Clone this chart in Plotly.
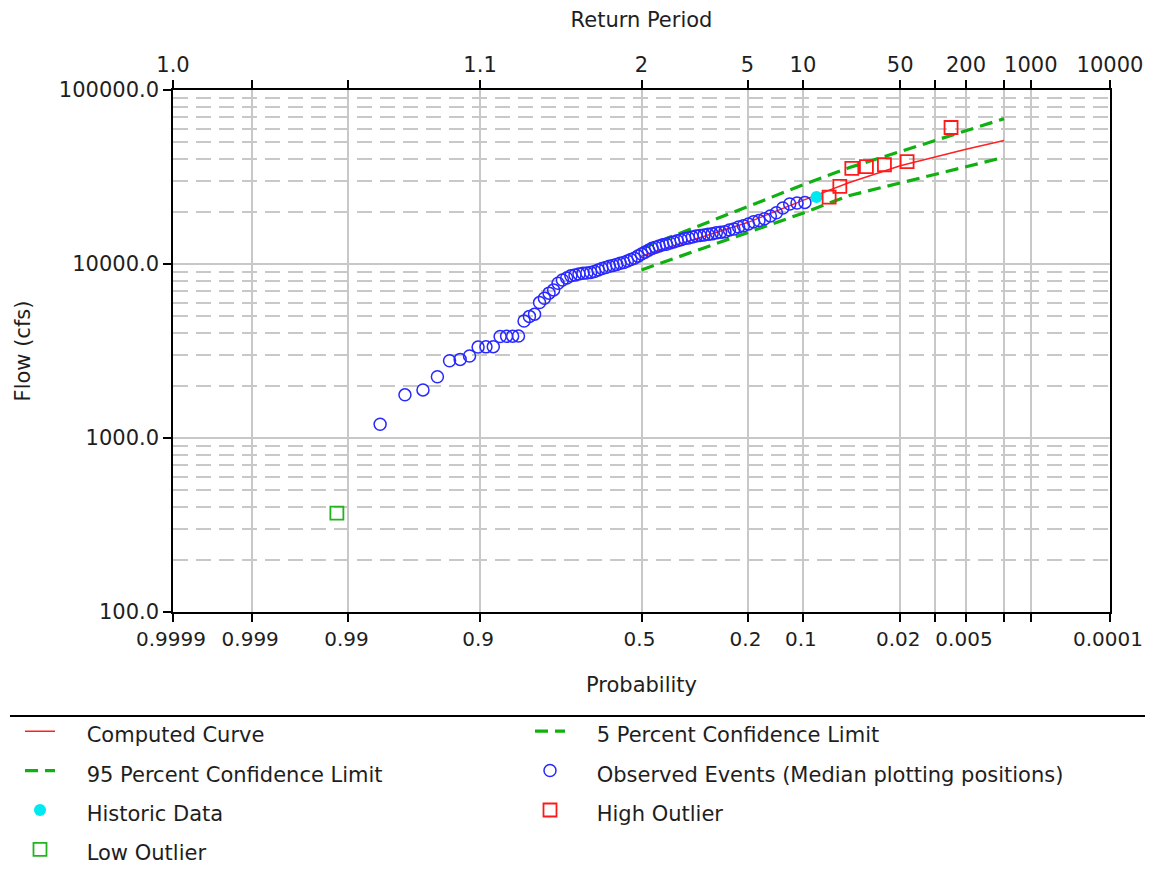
import plotly.graph_objects as go
from statistics import NormalDist

# ---------------- data ----------------
prob_ticks = [0.9999, 0.999, 0.99, 0.9, 0.5, 0.2, 0.1, 0.02, 0.01, 0.005, 0.002, 0.001, 0.0001]
prob_labels = ["0.9999", "0.999", "0.99", "0.9", "0.5", "0.2", "0.1", "0.02", "", "0.005", "", "", "0.0001"]
rp_labels = ["1.0", "", "", "1.1", "2", "5", "10", "50", "", "200", "", "1000", "10000"]

flow_major = [100, 1000, 10000, 100000]
flow_major_labels = ["100.0", "1000.0", "10000.0", "100000.0"]
flow_minor = [m * d for d in (100, 1000, 10000) for m in range(2, 10)]

curve_prob = [0.5, 0.2, 0.1, 0.05, 0.02, 0.01, 0.005, 0.002]
computed_flow = [11100, 17300, 23200, 29300, 36700, 41300, 45700, 51300]
upper5_flow = [12300, 21300, 28500, 35700, 44200, 51100, 58200, 68400]
lower95_flow = [9250, 15100, 19600, 24700, 29100, 32600, 36200, 41100]

obs_prob = [0.0973, 0.1085, 0.1197, 0.1309, 0.1421, 0.1532, 0.1644, 0.1756, 0.1868, 0.1980,
            0.2092, 0.2204, 0.2315, 0.2427, 0.2539, 0.2651, 0.2763, 0.2875, 0.2987, 0.3098,
            0.3210, 0.3322, 0.3434, 0.3546, 0.3658, 0.3770, 0.3881, 0.3993, 0.4105, 0.4217,
            0.4329, 0.4441, 0.4553, 0.4664, 0.4776, 0.4888, 0.5000, 0.5112, 0.5224, 0.5336,
            0.5447, 0.5559, 0.5671, 0.5783, 0.5895, 0.6007, 0.6119, 0.6230, 0.6342, 0.6454,
            0.6566, 0.6678, 0.6790, 0.6902, 0.7013, 0.7125, 0.7237, 0.7349, 0.7461, 0.7573,
            0.7685, 0.7796, 0.7908, 0.8020, 0.8132, 0.8244, 0.8356, 0.8468, 0.8579, 0.8691,
            0.8803, 0.8915, 0.9027, 0.9139, 0.9250, 0.9362, 0.9474, 0.9586, 0.9698, 0.9810]
obs_flow = [22600, 22400, 22100, 21000, 19700, 18900, 18200, 17800, 17500, 17000,
            16600, 16300, 15900, 15700, 15300, 15200, 15100, 14900, 14800, 14700,
            14600, 14500, 14300, 14100, 14000, 13800, 13600, 13400, 13200, 13000,
            12900, 12700, 12500, 12300, 12000, 11700, 11400, 11100, 10800, 10600,
            10400, 10200, 10100, 9950, 9800, 9700, 9550, 9430, 9250, 9050,
            8950, 8880, 8850, 8760, 8650, 8550, 8300, 8100, 7750, 7100,
            6800, 6350, 6000, 5150, 5000, 4700, 3860, 3850, 3840, 3830,
            3350, 3340, 3330, 2960, 2830, 2780, 2250, 1890, 1770, 1200]

historic_prob = [0.0824]
historic_flow = [24300]

high_prob = [0.0682, 0.0577, 0.0475, 0.0371, 0.0269, 0.0175, 0.0070]
high_flow = [24200, 27900, 35400, 36300, 37200, 38800, 60900]

low_prob = [0.9922]
low_flow = [370]

# ---------------- probability (normal) scale ----------------
nd = NormalDist()


def zpos(p):
    return nd.inv_cdf(1.0 - p)


def zlist(ps):
    return [zpos(p) for p in ps]


FONT = "DejaVu Sans"
FS = 21
TXT = "#1e1e1e"
GRID = "#c8c8c8"


def leg(name):
    return '<span style="font-size:%dpx">&nbsp;&nbsp;&nbsp;&nbsp;%s</span>' % (FS, name)


fig = go.Figure()
fig.add_trace(go.Scatter(x=zlist(curve_prob), y=computed_flow, mode="lines",
                         line=dict(color="#ff2020", width=1.5), name=leg("Computed Curve"),
                         legend="legend"))
fig.add_trace(go.Scatter(x=zlist(curve_prob), y=upper5_flow, mode="lines",
                         line=dict(color="#10b010", width=3.2, dash="13px,7px"),
                         name=leg("5 Percent Confidence Limit"), legend="legend2"))
fig.add_trace(go.Scatter(x=zlist(curve_prob), y=lower95_flow, mode="lines",
                         line=dict(color="#10b010", width=3.2, dash="13px,7px"),
                         name=leg("95 Percent Confidence Limit"), legend="legend"))
fig.add_trace(go.Scatter(x=zlist(obs_prob), y=obs_flow, mode="markers",
                         marker=dict(symbol="circle-open", size=12, color="#2828ff",
                                     line=dict(width=1.5)),
                         name=leg("Observed Events (Median plotting positions)"),
                         legend="legend2"))
fig.add_trace(go.Scatter(x=zlist(historic_prob), y=historic_flow, mode="markers",
                         marker=dict(symbol="circle", size=12, color="#00e8f0"),
                         name=leg("Historic Data"), legend="legend"))
fig.add_trace(go.Scatter(x=zlist(high_prob), y=high_flow, mode="markers",
                         marker=dict(symbol="square-open", size=13, color="#ff1a1a",
                                     line=dict(width=1.8)),
                         name=leg("High Outlier"), legend="legend2"))
fig.add_trace(go.Scatter(x=zlist(low_prob), y=low_flow, mode="markers",
                         marker=dict(symbol="square-open", size=13, color="#20b420",
                                     line=dict(width=1.8)),
                         name=leg("Low Outlier"), legend="legend"))
# empty trace to activate the top (return period) axis
fig.add_trace(go.Scatter(x=[], y=[], xaxis="x2", showlegend=False, hoverinfo="skip"))

xr = [zpos(prob_ticks[0]), zpos(prob_ticks[-1])]
tickv = zlist(prob_ticks)

axis_common = dict(showline=True, linecolor="black", linewidth=1.5, ticks="outside",
                   ticklen=8, tickwidth=1.5, tickcolor="black")

legend_common = dict(orientation="v", xanchor="left", yanchor="top", y=-0.181,
                     bgcolor="rgba(0,0,0,0)", traceorder="normal",
                     font=dict(family=FONT, size=28, color=TXT))

fig.update_layout(
    width=1137, height=857,
    margin=dict(l=165, r=35, t=82, b=253, autoexpand=False),
    paper_bgcolor="white", plot_bgcolor="white",
    font=dict(family=FONT, size=FS, color=TXT),
    xaxis=dict(range=xr, tickmode="array", tickvals=tickv, ticktext=prob_labels,
               showgrid=True, gridcolor=GRID, gridwidth=1.5, zeroline=False,
               ticklabeloverflow="allow", ticklabelshift=-2,
               tickfont=dict(family=FONT, size=20, color=TXT),
               title=dict(text="Probability", font=dict(family=FONT, size=FS, color=TXT), standoff=28),
               **axis_common),
    xaxis2=dict(range=xr, overlaying="x", side="top", tickmode="array", tickvals=tickv,
                ticktext=rp_labels, showgrid=False, zeroline=False,
                ticklabeloverflow="allow",
                tickfont=dict(family=FONT, size=FS, color=TXT),
                title=dict(text="Return Period", font=dict(family=FONT, size=FS, color=TXT), standoff=20),
                **axis_common),
    yaxis=dict(type="log", range=[2, 5], tickmode="array", tickvals=flow_major,
               ticktext=flow_major_labels, mirror=True, showgrid=True, gridcolor=GRID,
               gridwidth=1.5, zeroline=False,
               tickfont=dict(family=FONT, size=FS, color=TXT),
               minor=dict(tickmode="array", tickvals=flow_minor, showgrid=True, gridcolor=GRID,
                          gridwidth=1.5, griddash="15px,8px", ticks=""),
               title=dict(text="Flow (cfs)", font=dict(family=FONT, size=FS, color=TXT), standoff=22),
               **axis_common),
    legend=dict(x=-0.1633, **legend_common),
    legend2=dict(x=0.381, **legend_common),
    shapes=[dict(type="line", xref="paper", yref="paper", x0=-0.174, x1=1.06,
                 y0=-0.199, y1=-0.199, line=dict(color="black", width=2))],
    showlegend=True,
)

fig.write_html("out.html")
